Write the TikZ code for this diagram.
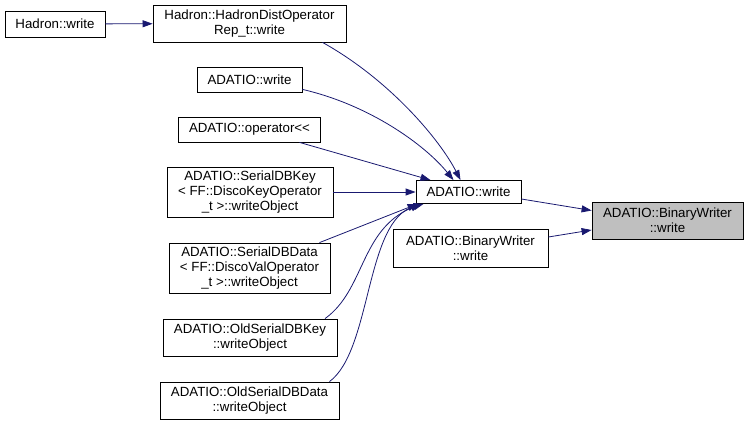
\documentclass[tikz,border=0pt]{standalone}
\usepackage{fontspec}
\setmainfont{Liberation Sans}
\usetikzlibrary{arrows.meta}
\definecolor{edgeblue}{HTML}{191970}
\definecolor{targetgray}{HTML}{BFBFBF}
\begin{document}
\begin{tikzpicture}[x=1pt,y=-1pt,
  box/.style={draw=black, line width=0.8pt, fill=white, inner sep=0pt, align=center,
    font=\fontsize{13.3}{15}\selectfont},
  edge/.style={draw=edgeblue, line width=0.8pt, -{Triangle[length=10pt,width=7pt]}}]
\useasboundingbox (0,0) rectangle (748,425);
\node[box, minimum width=100, minimum height=26] (hw) at (55,24) {Hadron::write};
\node[box, minimum width=193, minimum height=37] (hd) at (249.5,23.5) {Hadron::HadronDistOperator\\Rep\_t::write};
\node[box, minimum width=105, minimum height=25] (aw) at (249.5,79.5) {ADATIO::write};
\node[box, minimum width=142, minimum height=25] (op) at (249.5,129.5) {ADATIO::operator<{}<};
\node[box, minimum width=166, minimum height=50] (sk) at (250,192) {ADATIO::SerialDBKey\\< FF::DiscoKeyOperator\\\_t >::writeObject};
\node[box, minimum width=161, minimum height=50] (sd) at (249.5,268) {ADATIO::SerialDBData\\< FF::DiscoValOperator\\\_t >::writeObject};
\node[box, minimum width=174, minimum height=37] (ok) at (250,337.5) {ADATIO::OldSerialDBKey\\::writeObject};
\node[box, minimum width=179, minimum height=37] (od) at (249.5,400.5) {ADATIO::OldSerialDBData\\::writeObject};
\node[box, minimum width=105, minimum height=23] (cw) at (468.5,192) {ADATIO::write};
\node[box, minimum width=155, minimum height=38] (mb) at (470.5,248) {ADATIO::BinaryWriter\\::write};
\node[box, fill=targetgray, minimum width=151, minimum height=37] (tg) at (667.5,220.5) {ADATIO::BinaryWriter\\::write};

\draw[edge] (hw) -- (hd);
\draw[edge] ([xshift=73pt]hd.south) .. controls (390,80) and (440,140) .. ([xshift=-8pt]cw.north);
\draw[edge] ([yshift=3pt]aw.south east) .. controls (370,105) and (425,145) .. ([xshift=-15pt]cw.north);
\draw[edge] ([xshift=50pt]op.south) -- ([xshift=-38pt]cw.north);
\draw[edge] (sk) -- (cw);
\draw[edge] ([xshift=70pt]sd.north) -- ([xshift=2pt]cw.south west);
\draw[edge] ([xshift=75pt]ok.north) .. controls (365,290) and (360,230) .. ([xshift=5pt]cw.south west);
\draw[edge] ([xshift=80pt]od.north) .. controls (372,350) and (365,220) .. ([xshift=8pt]cw.south west);
\draw[edge] ([yshift=-7pt]cw.east) -- ([yshift=10pt]tg.west);
\draw[edge] ([yshift=11pt]mb.east) -- ([yshift=-9.5pt]tg.west);
\end{tikzpicture}
\end{document}
